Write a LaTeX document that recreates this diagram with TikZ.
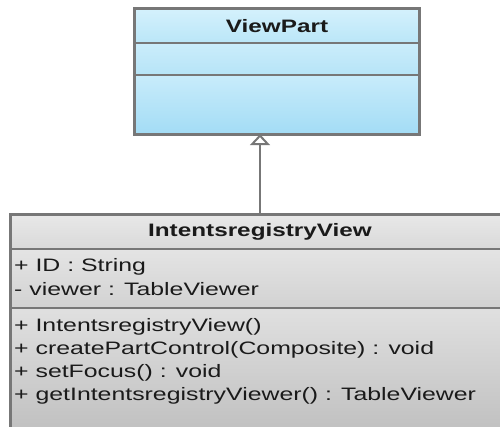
\documentclass[tikz,border=0pt]{standalone}
\usepackage{fontspec}
\setmainfont{Liberation Sans}
\usepackage{graphicx}
\usetikzlibrary{arrows.meta}
\definecolor{bordergray}{HTML}{777777}
\definecolor{txt}{HTML}{1A1A1A}
\newcommand{\sx}[1]{\scalebox{1.35}[1]{#1}}
\newcommand{\mx}[1]{\scalebox{1.38}[1]{#1}}
\tikzset{
  comp/.style={draw=none, inner sep=0pt, minimum width=#1, text=txt},
  border/.style={draw=bordergray, line width=3pt},
  divider/.style={draw=bordergray, line width=2.5pt},
  member/.style={anchor=base west, inner sep=0pt, text=txt, font=\fontsize{18}{22}\selectfont},
  title/.style={font=\fontsize{18}{22}\selectfont\bfseries},
  gen/.style={draw=bordergray, line width=2.5pt, -{Triangle[open, width=20pt, length=11pt, line width=2pt]}}
}
\begin{document}
\begin{tikzpicture}[x=1pt,y=-1pt]
\useasboundingbox (0,0) rectangle (500,426);
\fill[white] (0,0) rectangle (500,426);
\clip (0,0) rectangle (500,426);
% ViewPart
\node[comp=284pt, minimum height=34pt, top color={rgb,255:red,212;green,241;blue,252}, bottom color={rgb,255:red,186;green,230;blue,248}, title] (vphead) at (277,26) {\sx{ViewPart}};
\node[comp=284pt, minimum height=32pt, top color={rgb,255:red,203;green,237;blue,251}, bottom color={rgb,255:red,182;green,228;blue,247}] (vpattr) at (277,59) {};
\node[comp=284pt, minimum height=59pt, top color={rgb,255:red,200;green,236;blue,251}, bottom color={rgb,255:red,163;green,220;blue,245}] (vpops) at (277,104.5) {};
\draw[divider] (vphead.south west) -- (vphead.south east);
\draw[divider] (vpattr.south west) -- (vpattr.south east);
\draw[border] (vphead.north west) rectangle (vpops.south east);
% IntentsregistryView
\node[comp=498pt, minimum height=34pt, top color={rgb,255:red,232;green,232;blue,232}, bottom color={rgb,255:red,217;green,217;blue,217}, title] (ivhead) at (260,232) {\sx{IntentsregistryView}};
\node[comp=498pt, minimum height=59pt, top color={rgb,255:red,228;green,228;blue,228}, bottom color={rgb,255:red,210;green,210;blue,210}] (ivattr) at (260,278.5) {};
\node[comp=498pt, minimum height=132pt, top color={rgb,255:red,224;green,224;blue,224}, bottom color={rgb,255:red,190;green,190;blue,190}] (ivops) at (260,374) {};
\draw[divider] (ivhead.south west) -- (ivhead.south east);
\draw[divider] (ivattr.south west) -- (ivattr.south east);
\draw[border] (ivhead.north west) rectangle (ivops.south east);
% members
\node[member] (a1) at (14,271) {\mx{+ ID : String}};
\node[member] (a2) at (14,295) {\mx{- viewer : TableViewer}};
\node[member] (m1) at (14,331) {\mx{+ IntentsregistryView()}};
\node[member] (m2) at (14,354) {\mx{+ createPartControl(Composite) : void}};
\node[member] (m3) at (14,377) {\mx{+ setFocus() : void}};
\node[member] (m4) at (14,400) {\mx{+ getIntentsregistryViewer() : TableViewer}};
% generalization
\draw[gen] (ivhead.north) -- (ivhead.north |- vpops.south);
\end{tikzpicture}
\end{document}
